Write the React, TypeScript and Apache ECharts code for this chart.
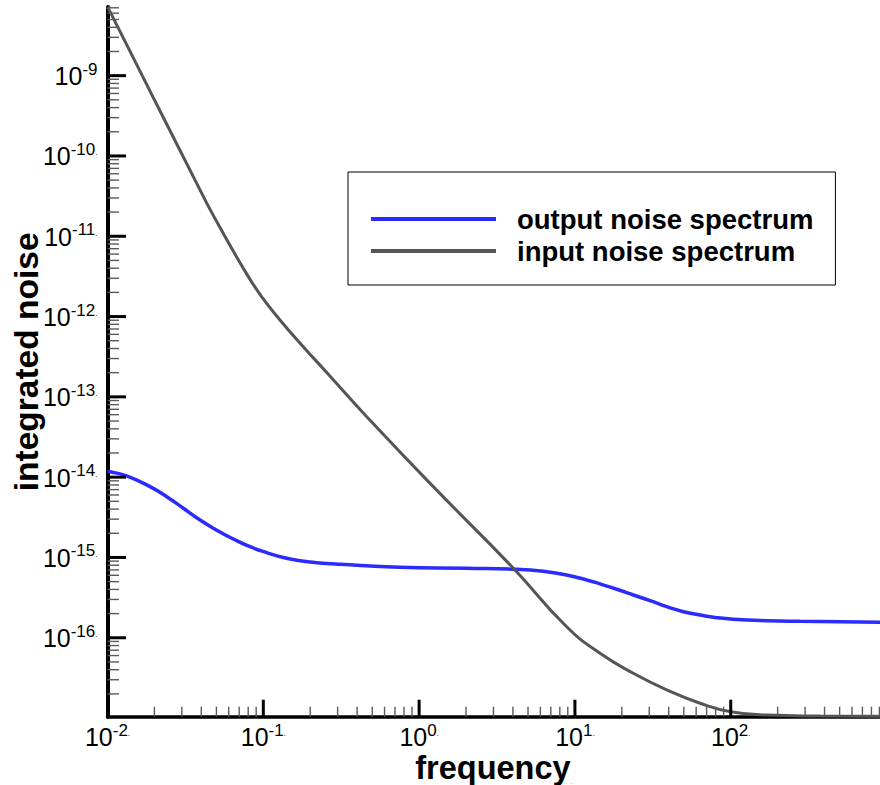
import React, { useEffect, useRef } from 'react';
import * as echarts from 'echarts';

const FONT = '"Liberation Sans", Arial, Helvetica, sans-serif';

// output noise spectrum (blue)
const outputFreq = [0.01, 0.01038, 0.01327, 0.01875, 0.02399, 0.03069, 0.03926, 0.05023, 0.06412, 0.08222, 0.1052, 0.1343, 0.1722, 0.2203, 0.3105, 0.7534, 2.023, 4.227, 6.592, 8.851, 11.91, 14.49, 18.54, 23.71, 30.34, 38.82, 49.66, 63.53, 81.28, 104.0, 170.2, 278.6, 907.8];
const outputNoise = [1.19e-14, 1.17e-14, 1.04e-14, 7.62e-15, 5.71e-15, 4.10e-15, 2.93e-15, 2.19e-15, 1.70e-15, 1.36e-15, 1.15e-15, 1.00e-15, 9.12e-16, 8.61e-16, 8.22e-16, 7.55e-16, 7.34e-16, 7.13e-16, 6.65e-16, 6.05e-16, 5.25e-16, 4.68e-16, 4.02e-16, 3.41e-16, 2.90e-16, 2.44e-16, 2.11e-16, 1.92e-16, 1.78e-16, 1.70e-16, 1.63e-16, 1.60e-16, 1.56e-16];

// input noise spectrum (grey)
const inputFreq = [0.01, 0.01038, 0.01671, 0.02158, 0.03648, 0.04775, 0.07816, 0.1, 0.1279, 0.1722, 0.2553, 0.4613, 1.233, 4.027, 8.851, 14.49, 23.71, 38.82, 63.53, 100.0, 170.2, 374.1, 907.8];
const inputNoise = [7.16e-9, 6.27e-9, 1.00e-9, 3.74e-10, 5.01e-11, 1.82e-11, 3.40e-12, 1.66e-12, 9.08e-13, 4.66e-13, 2.01e-13, 5.66e-14, 7.62e-15, 7.34e-16, 1.37e-16, 6.41e-17, 3.61e-17, 2.24e-17, 1.53e-17, 1.20e-17, 1.09e-17, 1.06e-17, 1.05e-17];

const seriesNames = ['output noise spectrum', 'input noise spectrum'];
const seriesColors = ['#2b2bff', '#555555'];

// axis ranges and tick labels
const X_MIN = 0.01;
const X_MAX = 907.8;
const Y_MIN = 1.04e-17;
const Y_MAX = 7.16e-9;
const xDecades = [-2, -1, 0, 1, 2];
const yDecades = [-17, -16, -15, -14, -13, -12, -11, -10, -9];
const xLabelsWithDot = [-2, -1, 0, 1, 2];
const yLabelsWithDot = [-16, -15, -14, -13, -12, -11, -10];
const minorMultipliers = [2, 3, 4, 5, 6, 7, 8, 9];

function majorTicks(decades: number[], lo: number, hi: number) {
  return decades.map((e) => Math.pow(10, e)).filter((v) => v >= lo && v <= hi);
}
function minorTicks(decades: number[], lo: number, hi: number) {
  const out: number[] = [];
  decades.forEach((e) => {
    minorMultipliers.forEach((m) => {
      const v = m * Math.pow(10, e);
      if (v >= lo && v <= hi) out.push(v);
    });
  });
  return out;
}

const labelRich = {
  b: { fontFamily: FONT, fontSize: 25, lineHeight: 26, color: '#000', verticalAlign: 'bottom' },
  s: { fontFamily: FONT, fontSize: 17, lineHeight: 17, color: '#000', verticalAlign: 'bottom', padding: [0, 0, 11, 0] },
  d: { fontFamily: FONT, fontSize: 8, lineHeight: 8, color: '#000', verticalAlign: 'bottom', padding: [0, 0, 12, 0] },
};

function makeFormatter(dotted: number[]) {
  return (v: number) => {
    const l = Math.log10(v);
    const e = Math.round(l);
    if (Math.abs(l - e) > 1e-6) return '';
    return '{b|10}{s|' + e + '}' + (dotted.indexOf(e) >= 0 ? '{d|.}' : '');
  };
}

function xTickSeries(values: number[], len: number, color: string, width: number) {
  return {
    type: 'custom',
    silent: true,
    z: 4,
    data: values.map((v) => [v, Y_MIN]),
    renderItem: (params: any, api: any) => {
      const p = api.coord([api.value(0), api.value(1)]);
      return {
        type: 'line',
        shape: { x1: p[0], y1: p[1], x2: p[0], y2: p[1] - len },
        style: { stroke: color, lineWidth: width },
      };
    },
  };
}
function yTickSeries(values: number[], len: number, color: string, width: number) {
  return {
    type: 'custom',
    silent: true,
    z: 4,
    data: values.map((v) => [X_MIN, v]),
    renderItem: (params: any, api: any) => {
      const p = api.coord([api.value(0), api.value(1)]);
      return {
        type: 'line',
        shape: { x1: p[0], y1: p[1], x2: p[0] + len, y2: p[1] },
        style: { stroke: color, lineWidth: width },
      };
    },
  };
}

export default function App() {
  const ref = useRef<HTMLDivElement>(null);
  useEffect(() => {
    if (!ref.current) return;
    const chart = echarts.init(ref.current, undefined, { renderer: 'svg' });
    chart.setOption({
      animation: false,
      backgroundColor: '#fff',
      grid: { left: 107.5, right: 0, top: 7, bottom: 68.3, containLabel: false, outerBoundsMode: 'none' },
      xAxis: {
        type: 'log',
        logBase: 10,
        min: X_MIN,
        max: X_MAX,
        axisLine: { show: true, onZero: false, lineStyle: { color: '#000', width: 3.5 } },
        axisTick: { show: false },
        splitLine: { show: false },
        axisLabel: { margin: 7, formatter: makeFormatter(xLabelsWithDot), rich: labelRich, showMinLabel: true, showMaxLabel: false },
        name: '{t|frequency}{d|.}',
        nameLocation: 'middle',
        nameGap: 34,
        nameMoveOverlap: false,
        nameTextStyle: {
          rich: {
            t: { fontFamily: FONT, fontWeight: 'bold', fontSize: 32.5, color: '#000', lineHeight: 34 },
            d: { fontFamily: FONT, fontSize: 6, color: '#000', verticalAlign: 'bottom', lineHeight: 10 },
          },
        },
      },
      yAxis: {
        type: 'log',
        logBase: 10,
        min: Y_MIN,
        max: Y_MAX,
        axisLine: { show: true, onZero: false, lineStyle: { color: '#000', width: 4 } },
        axisTick: { show: false },
        splitLine: { show: false },
        axisLabel: { margin: 10, formatter: makeFormatter(yLabelsWithDot), rich: labelRich, showMinLabel: false, showMaxLabel: false },
        name: 'integrated noise',
        nameLocation: 'middle',
        nameRotate: 90,
        nameGap: 64,
        nameMoveOverlap: false,
        nameTextStyle: { fontFamily: FONT, fontWeight: 'bold', fontSize: 33.5, color: '#000' },
      },
      legend: {
        orient: 'vertical',
        left: 348,
        top: 172,
        padding: [31, 22, 18, 23],
        itemGap: 0,
        itemWidth: 125,
        itemHeight: 4,
        icon: 'rect',
        borderColor: '#000',
        borderWidth: 1,
        selectedMode: false,
        data: seriesNames,
        textStyle: { fontFamily: FONT, fontWeight: 'bold', fontSize: 27.5, color: '#000', lineHeight: 32, padding: [0, 0, 0, 16] },
      },
      series: [
        {
          type: 'line',
          name: seriesNames[0],
          data: outputFreq.map((f, i) => [f, outputNoise[i]]),
          symbol: 'none',
          showSymbol: false,
          smooth: 0.5,
          lineStyle: { color: seriesColors[0], width: 3.5 },
          itemStyle: { color: seriesColors[0] },
          z: 3,
        },
        {
          type: 'line',
          name: seriesNames[1],
          data: inputFreq.map((f, i) => [f, inputNoise[i]]),
          symbol: 'none',
          showSymbol: false,
          smooth: 0.5,
          lineStyle: { color: seriesColors[1], width: 3 },
          itemStyle: { color: seriesColors[1] },
          z: 3,
        },
        xTickSeries(majorTicks(xDecades, X_MIN, X_MAX), 17, '#000', 3),
        xTickSeries(minorTicks(xDecades, X_MIN, X_MAX), 10, '#5a5a5a', 1.4),
        yTickSeries(majorTicks(yDecades, Y_MIN, Y_MAX), 18.5, '#000', 3),
        yTickSeries(minorTicks(yDecades, Y_MIN, Y_MAX), 11.5, '#5a5a5a', 1.4),
      ],
    });
    return () => chart.dispose();
  }, []);
  return <div ref={ref} style={{ position: 'fixed', left: 0, top: 0, width: 880, height: 785, background: '#fff' }} />;
}
